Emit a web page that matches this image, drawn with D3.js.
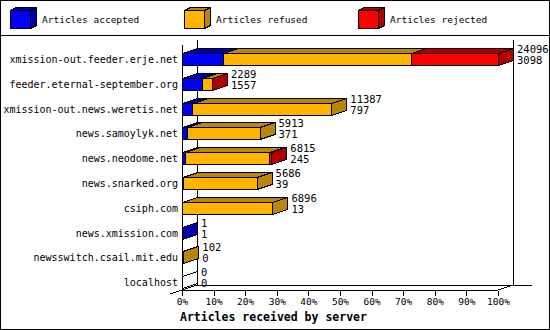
<!DOCTYPE html>
<html>
<head>
<meta charset="utf-8">
<script src="https://cdn.jsdelivr.net/npm/d3@7"></script>
<style>
  body { margin: 0; background: #fff; }
  svg text { font-family: "DejaVu Sans Mono", monospace; fill: #000; }
</style>
</head>
<body>
<svg width="550" height="330"></svg>
<script>
// data
const servers = ["xmission-out.feeder.erje.net", "feeder.eternal-september.org",
  "xmission-out.news.weretis.net", "news.samoylyk.net", "news.neodome.net",
  "news.snarked.org", "csiph.com", "news.xmission.com", "newsswitch.csail.mit.edu", "localhost"]
const offered  = [24096, 2289, 11387, 5913, 6815, 5686, 6896, 1, 102, 0]
const accepted = [3098, 1557, 797, 371, 245, 39, 13, 1, 0, 0]
const refused  = [14341, 720, 10590, 5542, 6390, 5647, 6883, 0, 102, 0]
const rejected = [6657, 12, 0, 0, 180, 0, 0, 0, 0, 0]
const seriesNames = ["Articles accepted", "Articles refused", "Articles rejected"]
const xTicks = [0, 10, 20, 30, 40, 50, 60, 70, 80, 90, 100]

const colors = ["#0000ff", "#ffb400", "#ff0000"]
const shades = ["#0000aa", "#b8860b", "#b00000"]

const svg = d3.select("svg")
const maxTotal = d3.max(offered)

// outer frame + legend separator
svg.append("rect").attr("x", 0.5).attr("y", 0.5).attr("width", 549).attr("height", 329)
  .attr("fill", "none").attr("stroke", "#000")
svg.append("line").attr("x1", 0).attr("x2", 550).attr("y1", 35.5).attr("y2", 35.5)
  .attr("stroke", "#000")

// legend cubes
const legendX = [10, 184, 358]
const leg = svg.append("g").attr("shape-rendering", "crispEdges")
seriesNames.forEach((name, i) => {
  const x0 = legendX[i] + 0.5, y0 = 10.5, w = 20, h = 18, dx = 6, dy = -3
  leg.append("polygon")
    .attr("points", [[x0, y0], [x0 + dx, y0 + dy], [x0 + w + dx, y0 + dy], [x0 + w, y0]].join(" "))
    .attr("fill", shades[i]).attr("stroke", "#000")
  leg.append("polygon")
    .attr("points", [[x0 + w, y0], [x0 + w + dx, y0 + dy], [x0 + w + dx, y0 + h + dy], [x0 + w, y0 + h]].join(" "))
    .attr("fill", shades[i]).attr("stroke", "#000")
  leg.append("rect").attr("x", x0).attr("y", y0).attr("width", w).attr("height", h)
    .attr("fill", colors[i]).attr("stroke", "#000")
  svg.append("text").attr("x", legendX[i] + 32).attr("y", 20)
    .attr("dominant-baseline", "middle").style("font-size", "9.5px").text(name)
})

// scales
const x = d3.scaleLinear().domain([0, 100]).range([182, 498])
const y = d3.scaleBand().domain(servers).range([46.5, 294.5])
const ddx = 15, ddy = -5
const x0 = x(0), x1 = x(100), yTop = 45, yBot = 290

// back wall + floor
const axes = svg.append("g").attr("stroke", "#000").attr("shape-rendering", "crispEdges")
axes.append("line").attr("x1", x0 + ddx + 0.5).attr("x2", x0 + ddx + 0.5).attr("y1", yTop + ddy).attr("y2", yBot + ddy)
axes.append("line").attr("x1", x1 + ddx + 0.5).attr("x2", x1 + ddx + 0.5).attr("y1", yTop + ddy).attr("y2", yBot + ddy)
axes.append("line").attr("x1", x0 + ddx).attr("x2", 532).attr("y1", yBot + ddy + 0.5).attr("y2", yBot + ddy + 0.5)
axes.append("line").attr("x1", 170).attr("y1", 294).attr("x2", x0 + ddx).attr("y2", yBot + ddy)
axes.append("line").attr("x1", x1).attr("y1", yBot).attr("x2", x1 + ddx).attr("y2", yBot + ddy)
axes.append("line").attr("x1", x0 + 0.5).attr("x2", x0 + 0.5).attr("y1", yTop).attr("y2", yBot)

// x axis (front)
const xAxis = svg.append("g").attr("transform", `translate(0,${yBot + 0.5})`)
  .call(d3.axisBottom(x).tickValues(xTicks).tickFormat(d => d + "%").tickSize(5).tickPadding(3))
xAxis.select(".domain").attr("d", `M${x0},0H${x1}`).attr("shape-rendering", "crispEdges")
xAxis.selectAll(".tick line").attr("shape-rendering", "crispEdges")
xAxis.selectAll("text").style("font-family", "DejaVu Sans Mono").style("font-size", "9.5px")

svg.append("text").attr("x", 180).attr("y", 317).attr("dominant-baseline", "middle")
  .style("font-size", "11.5px").style("font-weight", "bold").text("Articles received by server")

// bars
const pct = v => v / maxTotal * 100
const bars = svg.append("g").attr("stroke", "#000").attr("shape-rendering", "crispEdges")
servers.forEach((s, i) => {
  const c = Math.round(y(s) + y.bandwidth() / 2)
  const top = c - 6 + 0.5, bot = c + 6 + 0.5
  const vals = [accepted[i], refused[i], rejected[i]]
  let cum = 0
  if (d3.sum(vals) === 0) {
    const xa = x0 + 0.5
    bars.append("polygon")
      .attr("points", [[xa, top], [xa + ddx, top + ddy], [xa + ddx, bot + ddy], [xa, bot]].join(" "))
      .attr("fill", "#fff")
  }
  vals.forEach((v, k) => {
    if (v === 0) return
    const xa = x(pct(cum)) + 0.5, xb = x(pct(cum + v)) + 0.5
    cum += v
    bars.append("polygon")
      .attr("points", [[xa, top], [xa + ddx, top + ddy], [xb + ddx, top + ddy], [xb, top]].join(" "))
      .attr("fill", shades[k])
    bars.append("polygon")
      .attr("points", [[xb, top], [xb + ddx, top + ddy], [xb + ddx, bot + ddy], [xb, bot]].join(" "))
      .attr("fill", shades[k])
    bars.append("rect").attr("x", xa).attr("y", top).attr("width", xb - xa).attr("height", bot - top)
      .attr("fill", colors[k])
  })

  // category label
  svg.append("text").attr("x", 178).attr("y", c + 0.5).attr("text-anchor", "end")
    .attr("dominant-baseline", "middle").style("font-size", "10px").text(s)

  // value labels: offered / accepted
  const lx = x(pct(offered[i])) + ddx + 4
  svg.append("text").attr("x", lx).attr("y", c - 9).attr("dominant-baseline", "middle")
    .style("font-size", "10.5px").text(offered[i])
  svg.append("text").attr("x", lx).attr("y", c + 2).attr("dominant-baseline", "middle")
    .style("font-size", "10.5px").text(accepted[i])
})
</script>
</body>
</html>
